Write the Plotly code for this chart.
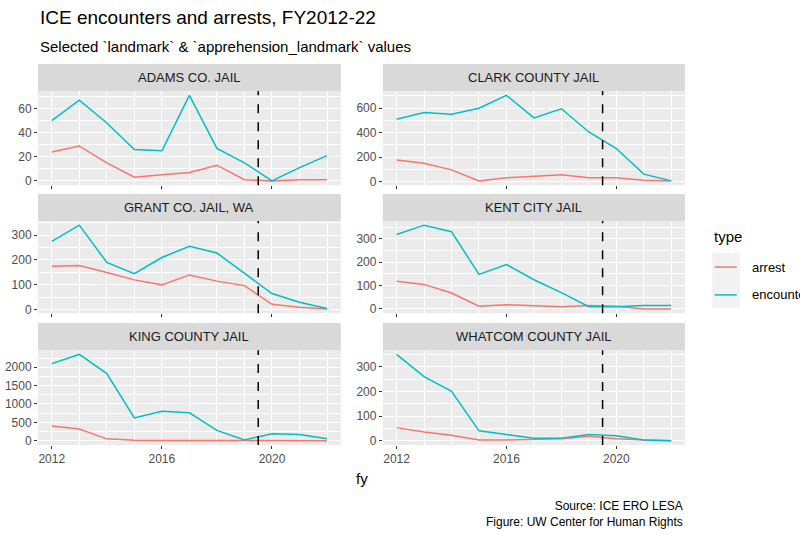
import plotly.graph_objects as go

years = list(range(2012, 2023))
facilities = ["ADAMS CO. JAIL", "CLARK COUNTY JAIL", "GRANT CO. JAIL, WA",
              "KENT CITY JAIL", "KING COUNTY JAIL", "WHATCOM COUNTY JAIL"]
encounter = {
    "ADAMS CO. JAIL": [50, 67, 48, 26, 25, 71, 27, 15, 0, 11, 21],
    "CLARK COUNTY JAIL": [510, 565, 550, 600, 705, 520, 595, 405, 270, 60, 5],
    "GRANT CO. JAIL, WA": [275, 340, 190, 145, 210, 255, 228, 145, 65, 30, 5],
    "KENT CITY JAIL": [318, 358, 330, 148, 190, 125, 70, 10, 10, 15, 15],
    "KING COUNTY JAIL": [2100, 2350, 1830, 620, 800, 760, 280, 20, 190, 170, 50],
    "WHATCOM COUNTY JAIL": [350, 260, 200, 40, 25, 10, 10, 25, 20, 3, 0],
}
arrest = {
    "ADAMS CO. JAIL": [24, 29, 15, 3, 5, 7, 13, 1, 0, 1, 1],
    "CLARK COUNTY JAIL": [175, 150, 95, 5, 30, 45, 55, 30, 30, 10, 5],
    "GRANT CO. JAIL, WA": [175, 178, 150, 120, 100, 140, 115, 97, 22, 10, 3],
    "KENT CITY JAIL": [118, 105, 68, 12, 18, 15, 10, 15, 12, 0, 0],
    "KING COUNTY JAIL": [400, 320, 50, 10, 5, 5, 0, 0, 0, 0, 0],
    "WHATCOM COUNTY JAIL": [53, 35, 22, 3, 3, 5, 8, 18, 8, 3, 0],
}
dticks = [20, 200, 100, 100, 500, 100]
cutoff = 2019.5

red = "#F8766D"
teal = "#00BFC4"
font = "Liberation Sans, Arial, sans-serif"

xdom = [[0.0, 0.468], [0.533, 1.0]]
ydom = [[0.682, 0.929], [0.346, 0.588], [0.0, 0.249]]
strips = [[0.929, 1.0], [0.588, 0.659], [0.249, 0.320]]

fig = go.Figure()
layout = {}
shapes = []
annotations = []
for i, fac in enumerate(facilities):
    r, c = divmod(i, 2)
    n = i + 1
    xa = "x" if n == 1 else "x%d" % n
    ya = "y" if n == 1 else "y%d" % n
    for name, data, col in [("arrest", arrest, red), ("encounter", encounter, teal)]:
        fig.add_trace(go.Scatter(x=years, y=data[fac], mode="lines", name=name,
                                 line=dict(color=col, width=1.5), xaxis=xa, yaxis=ya,
                                 showlegend=False))
    vals = encounter[fac] + arrest[fac]
    lo, hi = min(vals), max(vals)
    pad = (hi - lo) * 0.05
    layout["xaxis" if n == 1 else "xaxis%d" % n] = dict(
        domain=xdom[c], anchor=ya, range=[2011.5, 2022.5], automargin=False,
        tickvals=[2012, 2016, 2020], showticklabels=(r == 2),
        showgrid=True, gridcolor="white", gridwidth=1.2,
        minor=dict(tickvals=[2013, 2014, 2015, 2017, 2018, 2019, 2021, 2022],
                   showgrid=True, gridcolor="white", gridwidth=0.8),
        ticks="outside", ticklen=3, tickcolor="#333333",
        tickfont=dict(size=12, color="#4d4d4d"), zeroline=False)
    layout["yaxis" if n == 1 else "yaxis%d" % n] = dict(
        domain=ydom[r], anchor=xa, range=[lo - pad, hi + pad], dtick=dticks[i],
        automargin=False, showgrid=True, gridcolor="white", gridwidth=1.2,
        minor=dict(dtick=dticks[i] / 2, showgrid=True, gridcolor="white", gridwidth=0.8),
        ticks="outside", ticklen=3, tickcolor="#333333",
        tickfont=dict(size=12, color="#4d4d4d"), zeroline=False)
    shapes.append(dict(type="rect", xref="paper", yref="paper",
                       x0=xdom[c][0], x1=xdom[c][1], y0=ydom[r][0], y1=ydom[r][1],
                       fillcolor="#EBEBEB", line_width=0, layer="below"))
    shapes.append(dict(type="rect", xref="paper", yref="paper",
                       x0=xdom[c][0], x1=xdom[c][1], y0=strips[r][0], y1=strips[r][1],
                       fillcolor="#D9D9D9", line_width=0))
    shapes.append(dict(type="line", xref=xa, yref="paper", x0=cutoff, x1=cutoff,
                       y0=ydom[r][0], y1=ydom[r][1],
                       line=dict(color="black", width=1.5, dash="dash")))
    annotations.append(dict(text=fac, xref="paper", yref="paper",
                            x=sum(xdom[c]) / 2, y=sum(strips[r]) / 2,
                            xanchor="center", yanchor="middle",
                            showarrow=False, font=dict(size=13, color="#1a1a1a")))

# legend drawn by hand so it can run off the right edge like the original
shapes.append(dict(type="rect", xref="paper", yref="paper", x0=1.042, x1=1.085,
                   y0=0.360, y1=0.504, fillcolor="#F2F2F2", line_width=0))
for name, col, ly in [("arrest", red, 0.467), ("encounter", teal, 0.394)]:
    shapes.append(dict(type="line", xref="paper", yref="paper", x0=1.046, x1=1.080,
                       y0=ly, y1=ly, line=dict(color=col, width=1.5)))
    annotations.append(dict(text=name, xref="paper", yref="paper", x=1.100, y=ly,
                            xanchor="left", yanchor="middle", showarrow=False,
                            font=dict(size=13, color="black")))
annotations.append(dict(text="type", xref="paper", yref="paper", x=1.042, y=0.546,
                        xanchor="left", yanchor="middle", showarrow=False,
                        font=dict(size=15, color="black")))

annotations += [
    dict(text="fy", xref="paper", yref="paper", x=0.501, y=-0.087, showarrow=False,
         xanchor="center", yanchor="middle", font=dict(size=15, color="black")),
    dict(text="Source: ICE ERO LESA<br>Figure: UW Center for Human Rights",
         xref="paper", yref="paper", x=1.0, y=-0.225, xanchor="right", yanchor="bottom",
         align="right", showarrow=False, font=dict(size=12, color="black")),
    dict(text="Selected `landmark` & `apprehension_landmark` values", xref="paper",
         yref="paper", x=0.0, y=1.047, xanchor="left", yanchor="middle",
         showarrow=False, font=dict(size=15, color="black")),
    dict(text="ICE encounters and arrests, FY2012-22", xref="paper",
         yref="paper", x=0.0, y=1.121, xanchor="left", yanchor="middle",
         showarrow=False, font=dict(size=19, color="black")),
]

fig.update_layout(
    **layout,
    width=800, height=534,
    margin=dict(l=38, r=115, t=64, b=89),
    paper_bgcolor="white", plot_bgcolor="rgba(0,0,0,0)",
    font=dict(family=font),
    shapes=shapes, annotations=annotations,
    showlegend=False,
)
fig.write_html("out.html", config={"displayModeBar": False},
               post_script="document.body.style.margin='0';document.body.style.overflow='hidden';")
